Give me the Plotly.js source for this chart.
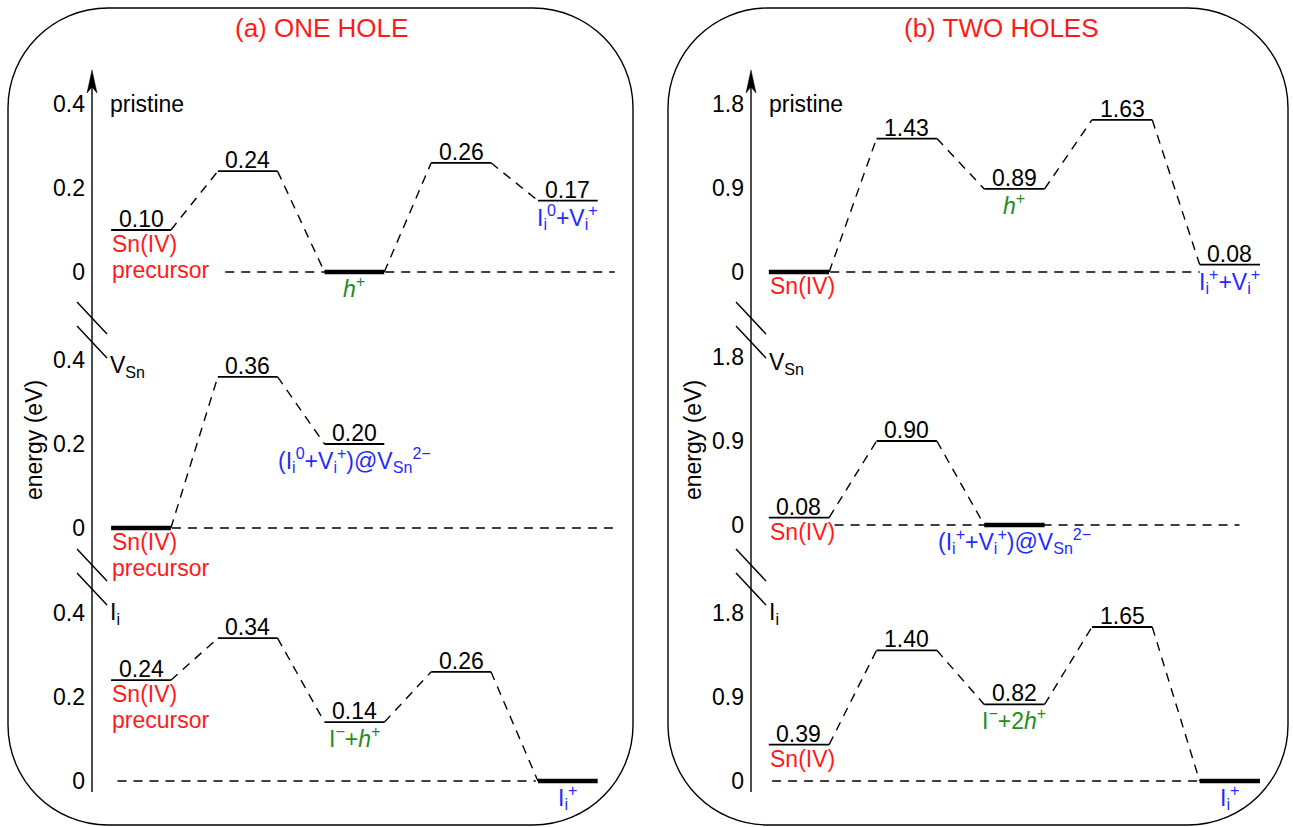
<!DOCTYPE html>
<html>
<head>
<meta charset="utf-8">
<script src="https://cdn.plot.ly/plotly-3.0.1.min.js"></script>
<style>html,body{margin:0;padding:0;background:#fff;}#chart{width:1293px;height:827px;}</style>
</head>
<body>
<div id="chart"></div>
<script>
// ---------------- DATA ----------------
const panelTitles = ['(a) ONE HOLE', '(b) TWO HOLES'];
const rowNames = ['pristine', 'V<sub>Sn</sub>', 'I<sub>i</sub>'];
const yTicksOneHole = [0, 0.2, 0.4];
const yTicksTwoHoles = [0, 0.9, 1.8];

// (a) one hole: energies (eV) of successive states
const oneHolePristine = [0.10, 0.24, 0.00, 0.26, 0.17];
const oneHoleVSn      = [0.00, 0.36, 0.20];
const oneHoleIi       = [0.24, 0.34, 0.14, 0.26, 0.00];
// (b) two holes
const twoHolesPristine = [0.00, 1.43, 0.89, 1.63, 0.08];
const twoHolesVSn      = [0.08, 0.90, 0.00];
const twoHolesIi       = [0.39, 1.40, 0.82, 1.65, 0.00];

// state labels (under the levels) and their colour class
const oneHolePristineLabels = ['Sn(IV)<br>precursor', '', '<i>h</i><sup>+</sup>', '', 'I<sub>i</sub><sup>0</sup>+V<sub>i</sub><sup>+</sup>'];
const oneHolePristineKinds  = ['red', '', 'green', '', 'blue'];
const oneHoleVSnLabels = ['Sn(IV)<br>precursor', '', '(I<sub>i</sub><sup>0</sup>+V<sub>i</sub><sup>+</sup>)@V<sub>Sn</sub><sup>2−</sup>'];
const oneHoleVSnKinds  = ['red', '', 'blue'];
const oneHoleIiLabels = ['Sn(IV)<br>precursor', '', 'I<sup>−</sup>+<i>h</i><sup>+</sup>', '', 'I<sub>i</sub><sup>+</sup>'];
const oneHoleIiKinds  = ['red', '', 'green', '', 'blue'];

const twoHolesPristineLabels = ['Sn(IV)', '', '<i>h</i><sup>+</sup>', '', 'I<sub>i</sub><sup>+</sup>+V<sub>i</sub><sup>+</sup>'];
const twoHolesPristineKinds  = ['red', '', 'green', '', 'blue'];
const twoHolesVSnLabels = ['Sn(IV)', '', '(I<sub>i</sub><sup>+</sup>+V<sub>i</sub><sup>+</sup>)@V<sub>Sn</sub><sup>2−</sup>'];
const twoHolesVSnKinds  = ['red', '', 'blue'];
const twoHolesIiLabels = ['Sn(IV)', '', 'I<sup>−</sup>+2<i>h</i><sup>+</sup>', '', 'I<sub>i</sub><sup>+</sup>'];
const twoHolesIiKinds  = ['red', '', 'green', '', 'blue'];

// ---------------- STYLE / LAYOUT ----------------
const W = 1293, H = 827;
const FONT = 'Liberation Sans, Arial, sans-serif';
const FS = 23;
const COLORS = {red: '#ff1a1a', green: '#1e8c1e', blue: '#1f2bff'};
const HW = 0.28; // half width of a level, in state units
const px = p => p / W;
const py = p => 1 - p / H;

const panels = [
  { axisPx: 92, c0: 141, step: 106.7, rightPx: 625, zeros: [272, 528, 781], scale: 420, ticks: yTicksOneHole,
    box: [8, 8, 633, 825], titleX: 321,
    rows: [
      {e: oneHolePristine, lab: oneHolePristineLabels, kind: oneHolePristineKinds, base: [0.79, 4.44]},
      {e: oneHoleVSn, lab: oneHoleVSnLabels, kind: oneHoleVSnKinds, base: [0.29, 4.44]},
      {e: oneHoleIi, lab: oneHoleIiLabels, kind: oneHoleIiKinds, base: [-0.22, 3.70]}
    ]},
  { axisPx: 751, c0: 799, step: 107.7, rightPx: 1285, zeros: [272, 525, 781], scale: 84 / 0.9, ticks: yTicksTwoHoles,
    box: [668, 8, 1288, 825], titleX: 1001,
    rows: [
      {e: twoHolesPristine, lab: twoHolesPristineLabels, kind: twoHolesPristineKinds, base: [0.29, 3.72]},
      {e: twoHolesVSn, lab: twoHolesVSnLabels, kind: twoHolesVSnKinds, base: [0.33, 4.09]},
      {e: twoHolesIi, lab: twoHolesIiLabels, kind: twoHolesIiKinds, base: [-0.25, 3.75]}
    ]}
];
const rowDomPx = [[92, 292], [342, 548], [596, 800]];
const rowLabelShift = [0, -6, 0];

const traces = [];
const annotations = [];
const shapes = [];
const layout = {
  width: W, height: H, margin: {l: 0, r: 0, t: 0, b: 0},
  paper_bgcolor: '#fff', plot_bgcolor: 'rgba(0,0,0,0)', showlegend: false,
  font: {family: FONT, size: FS, color: '#000'}
};

function roundRectPath(x0, y0, x1, y1, r) {
  const k = 0.5523 * r;
  const P = (x, y) => px(x).toFixed(5) + ',' + py(y).toFixed(5);
  return 'M' + P(x0 + r, y0) + ' L' + P(x1 - r, y0) +
    ' C' + P(x1 - r + k, y0) + ' ' + P(x1, y0 + r - k) + ' ' + P(x1, y0 + r) +
    ' L' + P(x1, y1 - r) +
    ' C' + P(x1, y1 - r + k) + ' ' + P(x1 - r + k, y1) + ' ' + P(x1 - r, y1) +
    ' L' + P(x0 + r, y1) +
    ' C' + P(x0 + r - k, y1) + ' ' + P(x0, y1 - r + k) + ' ' + P(x0, y1 - r) +
    ' L' + P(x0, y0 + r) +
    ' C' + P(x0, y0 + r - k) + ' ' + P(x0 + r - k, y0) + ' ' + P(x0 + r, y0) + ' Z';
}

panels.forEach((P, pi) => {
  // panel frame
  shapes.push({type: 'path', xref: 'paper', yref: 'paper', path: roundRectPath(P.box[0], P.box[1], P.box[2], P.box[3], 100),
    line: {color: '#000', width: 1.4}, fillcolor: 'rgba(0,0,0,0)'});
  // title
  annotations.push({xref: 'paper', yref: 'paper', x: px(P.titleX), y: py(28), text: panelTitles[pi], showarrow: false,
    font: {family: FONT, size: 26, color: COLORS.red}, xanchor: 'center', yanchor: 'middle'});
  // energy axis title
  annotations.push({xref: 'paper', yref: 'paper', x: px(P.axisPx - 58), y: py(440), text: 'energy (eV)', showarrow: false,
    textangle: -90, font: {family: FONT, size: FS, color: '#000'}, xanchor: 'center', yanchor: 'middle'});
  // energy axis with arrow
  shapes.push({type: 'line', xref: 'paper', yref: 'paper', x0: px(P.axisPx), x1: px(P.axisPx), y0: py(792), y1: py(80),
    line: {color: '#000', width: 1.4}});
  const a = P.axisPx;
  shapes.push({type: 'path', xref: 'paper', yref: 'paper', fillcolor: '#000', line: {color: '#000', width: 0.5},
    path: 'M' + px(a) + ',' + py(70) + ' L' + px(a - 5) + ',' + py(93) + ' L' + px(a) + ',' + py(87) + ' L' + px(a + 5) + ',' + py(93) + ' Z'});
  // axis breaks
  [[302, 326], [549, 573]].forEach(pair => pair.forEach(y0 => {
    shapes.push({type: 'line', xref: 'paper', yref: 'paper', x0: px(a - 15), y0: py(y0), x1: px(a + 15), y1: py(y0 + 32),
      line: {color: '#000', width: 1.4}});
  }));

  const xr = [-(P.c0 - P.axisPx) / P.step, (P.rightPx - P.c0) / P.step];

  P.rows.forEach((R, ri) => {
    const k = pi * 3 + ri + 1;
    const xa = k === 1 ? 'x' : 'x' + k, ya = k === 1 ? 'y' : 'y' + k;
    const xk = k === 1 ? 'xaxis' : 'xaxis' + k, yk = k === 1 ? 'yaxis' : 'yaxis' + k;
    const dom = rowDomPx[ri];
    const z = P.zeros[ri];
    layout[xk] = {domain: [px(P.axisPx), px(P.rightPx)], range: xr, visible: false, fixedrange: true, anchor: ya};
    layout[yk] = {domain: [py(dom[1]), py(dom[0])], range: [(z - dom[1]) / P.scale, (z - dom[0]) / P.scale],
      anchor: xa, showgrid: false, zeroline: false, showline: false, ticks: '',
      tickvals: P.ticks, ticktext: P.ticks.map(v => String(v)), ticklabelstandoff: 6,
      tickfont: {family: FONT, size: FS, color: '#000'}, fixedrange: true};

    const idx = R.e.map((_, i) => i);
    // dashed zero reference line
    traces.push({type: 'scatter', mode: 'lines', xaxis: xa, yaxis: ya, x: R.base, y: [0, 0],
      line: {color: '#000', width: 1.4, dash: '9px,7px'}, hoverinfo: 'skip'});
    // connectors
    const cx = [], cy = [];
    for (let i = 0; i < R.e.length - 1; i++) {
      cx.push(idx[i] + HW, idx[i + 1] - HW, null);
      cy.push(R.e[i], R.e[i + 1], null);
    }
    traces.push({type: 'scatter', mode: 'lines', xaxis: xa, yaxis: ya, x: cx, y: cy,
      line: {color: '#000', width: 1.4, dash: '9px,7px'}, hoverinfo: 'skip'});
    // levels
    const tx = [], ty = [], bx = [], by = [];
    R.e.forEach((v, i) => {
      if (v === 0) { bx.push(i - HW, i + HW, null); by.push(v, v, null); }
      else { tx.push(i - HW, i + HW, null); ty.push(v, v, null); }
    });
    traces.push({type: 'scatter', mode: 'lines', xaxis: xa, yaxis: ya, x: tx, y: ty, line: {color: '#000', width: 1.8}, hoverinfo: 'skip'});
    traces.push({type: 'scatter', mode: 'lines', xaxis: xa, yaxis: ya, x: bx, y: by, line: {color: '#000', width: 4.5}, hoverinfo: 'skip'});

    // value labels
    R.e.forEach((v, i) => {
      if (v !== 0) {
        annotations.push({xref: xa, yref: ya, x: i, y: v, text: v.toFixed(2), showarrow: false,
          xanchor: 'center', yanchor: 'bottom', yshift: -4, font: {family: FONT, size: FS, color: '#000'}});
      }
    });
    // state labels
    R.lab.forEach((t, i) => {
      if (!t) return;
      const col = COLORS[R.kind[i]];
      const lines = t.split('<br>');
      const multi = R.kind[i] === 'red';
      lines.forEach((ln, li) => {
        annotations.push({xref: xa, yref: ya, x: multi ? i - HW : i, y: R.e[i], text: ln, showarrow: false,
          xanchor: multi ? 'left' : 'center', yanchor: 'top', yshift: (multi ? 0 : 1) - li * 26, align: 'left',
          borderpad: 0, font: {family: FONT, size: FS, color: col}});
      });
    });
    // section label
    annotations.push({xref: 'paper', yref: ya, x: px(P.axisPx + 16), y: P.ticks[2], text: rowNames[ri], showarrow: false,
      xanchor: 'left', yanchor: 'middle', yshift: rowLabelShift[ri], font: {family: FONT, size: FS, color: '#000'}});
  });
});

layout.annotations = annotations;
layout.shapes = shapes;
Plotly.newPlot('chart', traces, layout, {displayModeBar: false, staticPlot: true});
</script>
</body>
</html>
